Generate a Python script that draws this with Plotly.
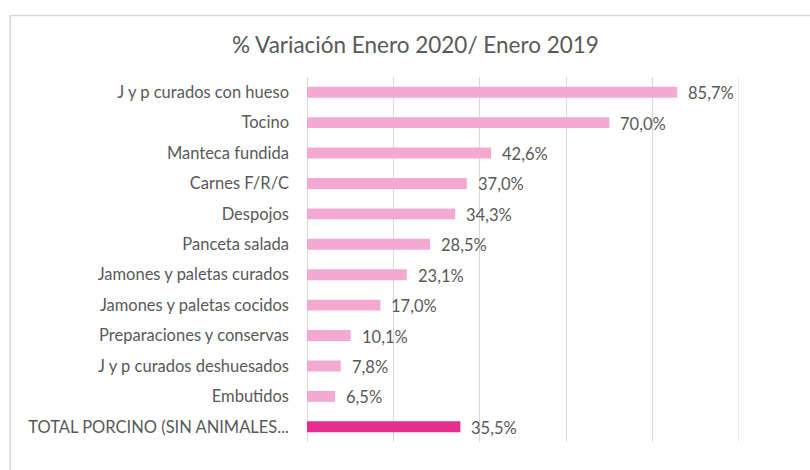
import plotly.graph_objects as go

# Year-on-year change by product, January 2020 vs January 2019
categories = [
    "J y p curados con hueso",
    "Tocino",
    "Manteca fundida",
    "Carnes F/R/C",
    "Despojos",
    "Panceta salada",
    "Jamones y paletas curados",
    "Jamones y paletas cocidos",
    "Preparaciones y conservas",
    "J y p curados deshuesados",
    "Embutidos",
    "TOTAL PORCINO (SIN ANIMALES...",
]
values = [85.7, 70.0, 42.6, 37.0, 34.3, 28.5, 23.1, 17.0, 10.1, 7.8, 6.5, 35.5]

LIGHT = "#F4A9D3"
DARK = "#E52D8E"
TEXT = "#595959"
GRID = "#D9D9D9"
FONT = "Lato"
X_MAX = 100

colors = [DARK if c.startswith("TOTAL") else LIGHT for c in categories]

fig = go.Figure(
    go.Bar(
        x=values,
        y=categories,
        orientation="h",
        marker=dict(color=colors, line=dict(width=0)),
        width=0.36,
        hoverinfo="x+y",
    )
)

# value labels to the right of each bar
for c, v in zip(categories, values):
    fig.add_annotation(
        x=v, y=c, xref="x", yref="y",
        text=f"{v:.1f}%".replace(".", ","),
        showarrow=False, xanchor="left", xshift=9, yshift=-1,
        font=dict(family=FONT, size=16.5, color=TEXT),
    )

# gridline at the right edge of the axis range
fig.add_shape(
    type="line", xref="x", yref="paper",
    x0=X_MAX, x1=X_MAX, y0=0, y1=1,
    line=dict(color=GRID, width=1), layer="below",
)

# outer chart frame
fig.add_shape(
    type="rect", xref="paper", yref="paper",
    x0=-0.687, x1=1.17, y0=-0.09, y1=1.1685,
    line=dict(color=GRID, width=1.5), fillcolor="rgba(0,0,0,0)",
    layer="below",
)

fig.update_layout(
    width=810, height=470,
    margin=dict(l=307, r=71, t=77, b=28),
    paper_bgcolor="white", plot_bgcolor="white",
    separators=",.",
    showlegend=False,
    title=dict(
        text="% Variación Enero 2020/ Enero 2019",
        x=415.5 / 810, xanchor="center",
        y=1 - 45 / 470, yanchor="middle",
        font=dict(family=FONT, size=22.5, color=TEXT),
    ),
    xaxis=dict(
        range=[0, X_MAX], tickvals=[0, 20, 40, 60, 80], showticklabels=False,
        showgrid=True, gridcolor=GRID, gridwidth=1,
        zeroline=True, zerolinecolor=GRID, zerolinewidth=1,
        showline=False, fixedrange=True,
    ),
    yaxis=dict(
        autorange="reversed", showgrid=False, showline=False,
        ticks="", ticklabelstandoff=17,
        tickfont=dict(family=FONT, size=16.5, color=TEXT),
        fixedrange=True,
    ),
)

fig.write_html("out.html")
